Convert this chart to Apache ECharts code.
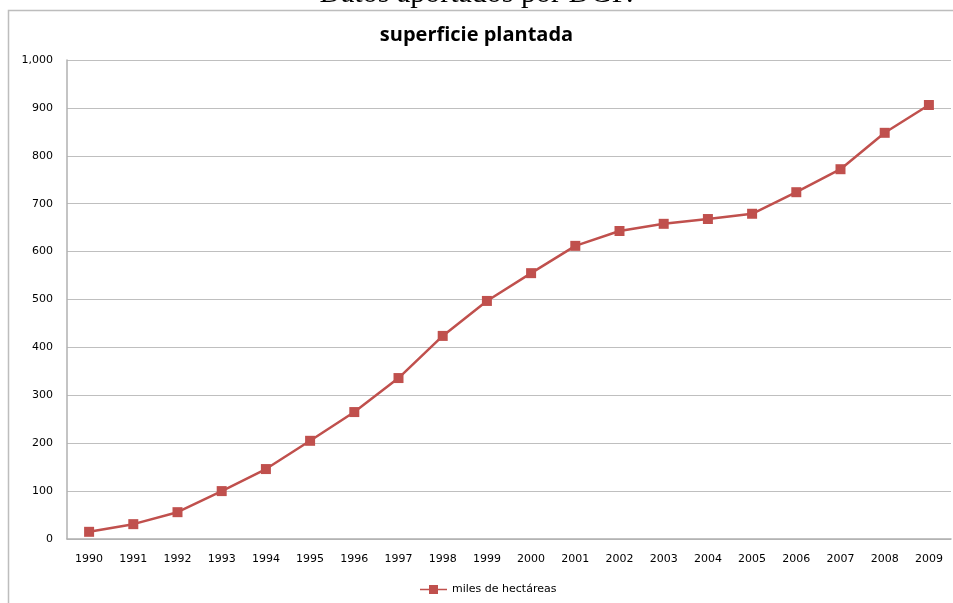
<!DOCTYPE html>
<html>
<head>
<meta charset="utf-8">
<style>
  html, body { margin: 0; padding: 0; background: #fff; }
  #chart { width: 953px; height: 603px; }
</style>
<script src="https://cdn.jsdelivr.net/npm/echarts@6/dist/echarts.min.js"></script>
</head>
<body>
<div id="chart"></div>
<script>
// Planted area by year (thousand hectares)
const years = ['1990','1991','1992','1993','1994','1995','1996','1997','1998','1999',
               '2000','2001','2002','2003','2004','2005','2006','2007','2008','2009'];
const hectares = [15, 31, 56, 100, 146, 205, 265, 336, 424, 497,
                  555, 612, 643, 658, 668, 679, 724, 772, 848, 906];
const seriesName = 'miles de hectáreas';
const chartTitle = 'superficie plantada';
const headerText = 'Datos aportados por DGF.';

// legend marker: a short line with a square in the middle
const legendIcon = 'path://M0,4.2 L27,4.2 L27,5.8 L0,5.8 Z M9,0.5 L18,0.5 L18,9.5 L9,9.5 Z';

const chart = echarts.init(document.getElementById('chart'));
chart.setOption({
  animation: false,
  backgroundColor: '#fff',
  title: {
    text: chartTitle,
    left: 'center',
    top: 20,
    textStyle: { fontFamily: 'Open Sans', fontWeight: 'bold', fontSize: 20, color: '#000' }
  },
  graphic: [
    { type: 'rect', shape: { x: 8.5, y: 10.5, width: 960, height: 700 },
      style: { fill: 'none', stroke: '#bdbdbd', lineWidth: 1.5 } },
    { type: 'text', left: 'center', top: -21,
      style: { text: headerText, font: '30px "Liberation Serif"', fill: '#000' } }
  ],
  legend: {
    bottom: 3,
    left: 415,
    itemWidth: 27,
    itemHeight: 10,
    itemGap: 4,
    textStyle: { fontFamily: 'DejaVu Sans', fontSize: 11, color: '#000' },
    data: [{ name: seriesName, icon: legendIcon }]
  },
  grid: { left: 67, right: 2, top: 60, bottom: 64 },
  xAxis: {
    type: 'category',
    data: years,
    boundaryGap: true,
    axisLine: { lineStyle: { color: '#b0b0b0', width: 1.5 } },
    axisTick: { show: false },
    axisLabel: { color: '#000', fontFamily: 'DejaVu Sans', fontSize: 11, margin: 15 }
  },
  yAxis: {
    type: 'value',
    min: 0,
    max: 1000,
    interval: 100,
    axisLine: { show: true, lineStyle: { color: '#b0b0b0', width: 1.5 } },
    axisTick: { show: false },
    splitLine: { lineStyle: { color: '#bfbfbf', width: 1.2 } },
    axisLabel: {
      color: '#000', fontFamily: 'DejaVu Sans', fontSize: 11, margin: 14,
      formatter: v => v.toLocaleString('en-US')
    }
  },
  series: [{
    name: seriesName,
    type: 'line',
    data: hectares,
    symbol: 'rect',
    symbolSize: 10,
    itemStyle: { color: '#c0504d' },
    lineStyle: { color: '#c0504d', width: 2.5 }
  }]
});
</script>
</body>
</html>
